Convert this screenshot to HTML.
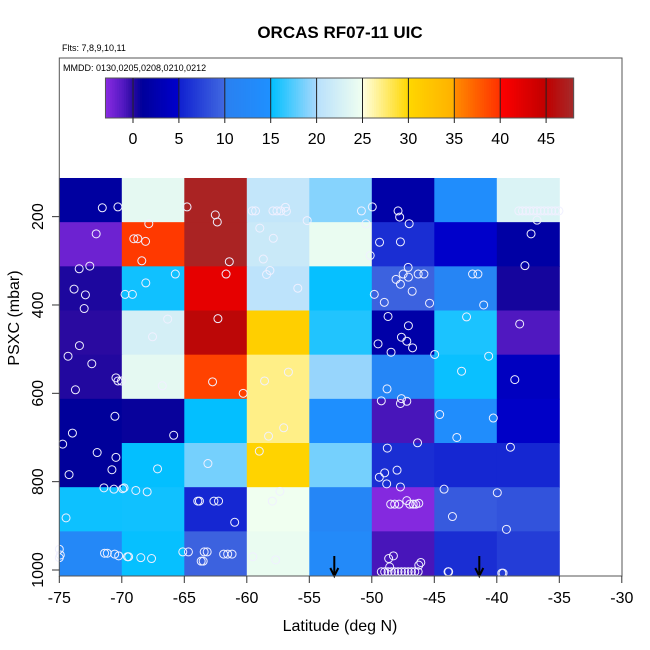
<!DOCTYPE html>
<html><head><meta charset="utf-8"><style>
body{margin:0;background:#fff}
svg{display:block;font-family:"Liberation Sans",sans-serif}
</style></head><body>
<svg id="chart" width="650" height="650" viewBox="0 0 650 650">
<text x="340" y="38" text-anchor="middle" font-size="17" font-weight="bold">ORCAS RF07-11 UIC</text>
<text x="62" y="51" font-size="9">Flts: 7,8,9,10,11</text>
<g id="grid"></g>
<g id="pts"></g>
<g id="arrows"></g>
<rect x="59.3" y="58" width="562.7" height="518" fill="none" stroke="#555" stroke-width="1"/>
<text x="63" y="71" font-size="9">MMDD: 0130,0205,0208,0210,0212</text>
<g id="cbar"></g>
<g id="axes"></g>
<text x="340" y="631" text-anchor="middle" font-size="16">Latitude (deg N)</text>
<text transform="translate(19,318) rotate(-90)" text-anchor="middle" font-size="16">PSXC (mbar)</text>
</svg>
<script>
const lonEdges = [-75,-70,-65,-60,-55,-50,-45,-40,-35];
const presCenters = [162.5,262.5,362.5,462.5,562.5,662.5,762.5,862.5,962.5];
const cellValues = [
 [1.5,24,47.5,21,19,2,14,23],
 [-2,39.5,47.5,21.5,24.5,6,4.8,1.8],
 [0.3,15.5,42,20.5,15.2,9.5,11.5,0.5],
 [0,22.5,45.5,31,16,2,15.8,-1],
 [0.2,24,39,27,19.5,12,15.3,4],
 [1,0.8,15.1,27,14.8,-0.8,14,4.5],
 [1,15.1,18.5,30.5,18.5,6,5.5,5.5],
 [15.4,15.5,5.5,25,12,-2.8,9,8.5],
 [12.5,15.2,9.5,24.5,13,-0.8,6,7]
];
const xTicks = [-75,-70,-65,-60,-55,-50,-45,-40,-35,-30];
const yTicks = [200,400,600,800,1000];
const cbTicks = [0,5,10,15,20,25,30,35,40,45];
const arrowLons = [-53,-41.4];
const ptLon = [-71.56,-70.31,-64.78,-62.52,-62.36,-67.84,-69.04,-68.72,-68.1,-68.4,-72.05,-61.4,-61.66,-73.41,-72.56,-73.82,-72.91,-73.01,-68.08,-65.72,-69.74,-69.15,-62.31,-66.33,-67.54,-73.39,-74.3,-72.4,-70.47,-70.31,-70.03,-73.71,-66.76,-62.74,-60.29,-70.55,-73.95,-74.73,-65.85,-71.97,-70.47,-70.79,-74.22,-67.14,-63.11,-59.0,-58.26,-57.05,-56.67,-58.58,-71.43,-70.63,-69.93,-69.82,-68.88,-67.97,-74.46,-63.92,-63.79,-62.63,-62.26,-60.97,-57.35,-57.96,-75,-74.92,-75,-71.38,-71.16,-70.57,-70.25,-69.55,-69.45,-68.48,-67.62,-65.12,-64.67,-63.41,-63.17,-61.85,-61.53,-61.18,-63.65,-63.49,-59.52,-57.69,-59.57,-59.3,-57.91,-57.59,-57.27,-56.91,-56.83,-55.17,-58.96,-57.88,-58.68,-58.15,-58.42,-55.92,-50.83,-50.47,-50.13,-49.96,-47.9,-47.77,-47.01,-49.38,-47.71,-47.09,-47.49,-48.06,-47.71,-47.07,-46.29,-45.83,-46.77,-49.8,-49.0,-45.38,-48.7,-47.07,-47.63,-47.2,-46.74,-49.5,-48.46,-44.97,-48.78,-49.24,-47.63,-47.71,-47.2,-46.34,-48.76,-47.98,-48.97,-49.4,-48.81,-47.71,-48.49,-48.17,-47.82,-46.96,-46.69,-46.48,-47.2,-46.24,-48.65,-48.27,-46.08,-46.24,-48.57,-49.24,-48.97,-48.7,-48.43,-48.17,-47.9,-47.63,-47.36,-47.09,-46.83,-46.56,-46.29,-42.42,-40.65,-42.82,-44.57,-40.28,-43.2,-44.22,-39.96,-43.55,-41.94,-41.51,-41.05,-43.9,-43.85,-38.24,-37.95,-37.66,-37.37,-37.07,-36.78,-36.49,-36.2,-35.9,-35.61,-35.32,-35.03,-36.78,-37.26,-37.75,-38.17,-38.56,-38.91,-39.23,-39.6,-39.5];
const ptPres = [180,178,178,196,212,216,250,250,256,300,239,302,330,318,312,364,377,408,350,330,376,376,431,432,472,492,516,533,565,572,572,592,583,574,600,652,690,715,695,734,745,773,784,771,759,731,697,678,552,572,814,817,816,814,820,823,882,844,844,844,844,892,822,844,953,966,972,962,962,964,968,970,970,972,974,959,959,959,959,964,964,964,980,980,970,977,187,187,187,187,187,179,188,209,226,249,296,322,331,362,187,216,288,178,187,201,216,258,257,315,330,342,353,337,330,330,369,376,394,396,426,447,473,482,497,488,507,512,590,617,612,623,618,712,724,774,780,790,805,812,851,851,851,851,851,851,843,849,974,968,983,989,993,1004,1004,1004,1004,1004,1004,1004,1004,1004,1004,1004,1004,427,516,550,648,656,700,817,825,879,330,330,400,1004,1004,187,187,187,187,187,187,187,187,187,187,187,187,208,239,311,443,569,722,908,1007,1007];

const X = v => 59.3 + (v + 75) * 12.5;
const Y = p => 570 - (1000 - p) * 0.4417;
const CBX = v => 133 + v * 9.18;

const stops = [[-3,'#8a2be2'],[-1,'#5018c0'],[0,'#2a0aa0'],[1,'#00009a'],[5,'#0000cd'],[5.01,'#1020d0'],[10,'#4169e1'],[10.01,'#2a80f0'],[15,'#1e90ff'],[15.01,'#00bfff'],[20,'#a8d8fc'],[20.01,'#b8e0fc'],[25,'#f0fff0'],[25.01,'#ffffe0'],[30,'#ffd700'],[35,'#ffb000'],[35.01,'#ff8c00'],[40,'#ff3000'],[40.01,'#ff0000'],[45,'#c00000'],[48,'#a52a2a']];
function hex(c){return [1,3,5].map(i=>parseInt(c.substr(i,2),16));}
function cmap(v){
  if(v<=stops[0][0]) return stops[0][1];
  for(let i=1;i<stops.length;i++){
    if(v<=stops[i][0]){
      const a=hex(stops[i-1][1]),b=hex(stops[i][1]),t=(v-stops[i-1][0])/(stops[i][0]-stops[i-1][0]);
      return 'rgb('+a.map((x,k)=>Math.round(x+(b[k]-x)*t)).join(',')+')';
    }
  }
  return stops[stops.length-1][1];
}
const NS='http://www.w3.org/2000/svg';
function mk(tag,attrs,parent){const e=document.createElementNS(NS,tag);for(const k in attrs)e.setAttribute(k,attrs[k]);parent.appendChild(e);return e;}

const grid=document.getElementById('grid');
cellValues.forEach((row,r)=>{
  row.forEach((v,c)=>{
    const y0=Y(presCenters[r]-50), y1=Y(presCenters[r]+50);
    const el=mk('rect',{x:X(lonEdges[c]),y:y0,width:X(lonEdges[c+1])-X(lonEdges[c])+0.5,height:y1-y0+0.5,fill:cmap(v)},grid);
    
    
  });
});
const pts=document.getElementById('pts');
ptLon.forEach((lo,i)=>{
  const el=mk('circle',{cx:X(lo),cy:Y(ptPres[i]),r:4,fill:'none',stroke:'#f0f0ff','stroke-width':1},pts);
  
  
});
const arr=document.getElementById('arrows');
arrowLons.forEach(lo=>{
  const g=mk('g',{},arr);
  
  
  const x=X(lo);
  mk('line',{x1:x,y1:556,x2:x,y2:575,stroke:'#000','stroke-width':2},g);
  mk('path',{d:`M${x-4},568 L${x},576 L${x+4},568`,fill:'none',stroke:'#000','stroke-width':2},g);
});
const cb=document.getElementById('cbar');
const cbMin=-3,cbMax=48;
for(let v=cbMin; v<cbMax; v+=0.25){
  const el=mk('rect',{x:CBX(v),y:78,width:9.18*0.25+0.4,height:40,fill:cmap(v+0.125)},cb);
  
  
}
mk('rect',{x:CBX(cbMin),y:78,width:CBX(cbMax)-CBX(cbMin),height:40,fill:'none',stroke:'#555','stroke-width':1},cb);
cbTicks.forEach(t=>{
  const x=CBX(t);
  mk('line',{x1:x,y1:78,x2:x,y2:123,stroke:'#222','stroke-width':1},cb);
  const tx=mk('text',{x:x,y:144,'text-anchor':'middle','font-size':16},cb);
  tx.textContent=t;
  
  
});
const ax=document.getElementById('axes');
xTicks.forEach(t=>{
  const x=X(t);
  mk('line',{x1:x,y1:576,x2:x,y2:583,stroke:'#333','stroke-width':1},ax);
  const tx=mk('text',{x:x,y:603,'text-anchor':'middle','font-size':16},ax);
  tx.textContent=t;
  
  
});
yTicks.forEach(t=>{
  const y=Y(t);
  mk('line',{x1:52,y1:y,x2:59.3,y2:y,stroke:'#333','stroke-width':1},ax);
  const tx=mk('text',{transform:`translate(43,${y}) rotate(-90)`,'text-anchor':'middle','font-size':16},ax);
  tx.textContent=t;
  
  
});
</script>
</body></html>
